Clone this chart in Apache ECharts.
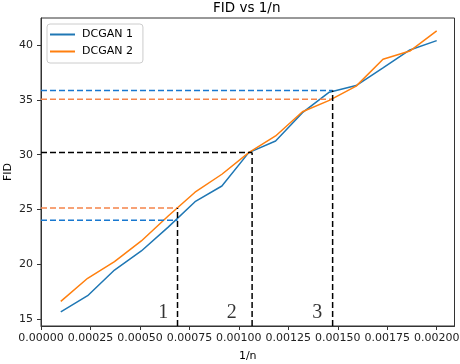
<!DOCTYPE html>
<html>
<head>
<meta charset="utf-8">
<title>FID vs 1/n</title>
<script src="https://cdn.jsdelivr.net/npm/echarts@6/dist/echarts.min.js"></script>
<style>
  html, body { margin: 0; padding: 0; background: #fff; }
  #main { width: 460px; height: 364px; }
</style>
</head>
<body>
<div id="main"></div>
<script>
// 1/n values (15 points)
var invN = [0.0001, 0.00023571, 0.00037143, 0.00050714, 0.00064286, 0.00077857,
            0.00091429, 0.00105, 0.00118571, 0.00132143, 0.00145714, 0.00159286,
            0.00172857, 0.00186429, 0.002];
var dcgan1 = [15.67, 17.15, 19.49, 21.23, 23.4, 25.72, 27.15, 30.19, 31.25, 33.83,
              35.7, 36.3, 37.91, 39.55, 40.4];
var dcgan2 = [16.64, 18.74, 20.25, 22.14, 24.42, 26.58, 28.22, 30.19, 31.71, 33.92,
              34.95, 36.25, 38.7, 39.45, 41.28];

// ticks
var xTicks = [0, 0.00025, 0.0005, 0.00075, 0.001, 0.00125, 0.0015, 0.00175, 0.002];
var yTicks = [15, 20, 25, 30, 35, 40];
var xMin = 0, xMax = 0.00209;
var yMin = 14.39, yMax = 42.46;

// guide lines: x of marks 1..3 and the FID levels read there
var markX = [0.00069, 0.001067, 0.001474];
var markTop = [25.15, 30.2, 35.85];
var blueLevels = [24.02, 35.85];    // at marks 1 and 3
var orangeLevels = [25.15, 35.05];  // at marks 1 and 3
var blackLevel = 30.2;              // at mark 2
var markNames = ['1', '2', '3'];
var markLabelX = [0.000595, 0.000942, 0.001374];
var markLabelY = 15;

var blue = '#1f77b4', orange = '#ff7f0e';
var dashBlue = '#1878d0', dashOrange = '#f5844a';

function pairs(xs, ys) {
  return xs.map(function (x, i) { return [x, ys[i]]; });
}

function dashed(data, color) {
  return {
    type: 'line', data: data, symbol: 'none', silent: true, z: 3,
    lineStyle: { color: color, width: 1.5, type: [6, 3] }
  };
}

var series = [
  { name: 'DCGAN 1', type: 'line', data: pairs(invN, dcgan1), symbol: 'none',
    lineStyle: { color: blue, width: 1.5 }, itemStyle: { color: blue }, z: 2 },
  { name: 'DCGAN 2', type: 'line', data: pairs(invN, dcgan2), symbol: 'none',
    lineStyle: { color: orange, width: 1.5 }, itemStyle: { color: orange }, z: 2 },
  dashed([[xMin, blueLevels[0]], [markX[0], blueLevels[0]]], dashBlue),
  dashed([[xMin, orangeLevels[0]], [markX[0], orangeLevels[0]]], dashOrange),
  dashed([[xMin, blackLevel], [markX[1], blackLevel]], '#000'),
  dashed([[xMin, blueLevels[1]], [markX[2], blueLevels[1]]], dashBlue),
  dashed([[xMin, orangeLevels[1]], [markX[2], orangeLevels[1]]], dashOrange)
];
markX.forEach(function (x, i) {
  series.push(dashed([[x, yMin], [x, markTop[i]]], '#000'));
});
series.push({
  type: 'scatter', silent: true, symbolSize: 1, z: 4,
  data: markLabelX.map(function (x, i) { return [x, markLabelY, markNames[i]]; }),
  itemStyle: { color: 'rgba(0,0,0,0)' },
  label: {
    show: true, position: [0, 0], align: 'left', verticalAlign: 'bottom',
    offset: [0, 4],
    formatter: function (p) { return p.value[2]; },
    fontFamily: 'Liberation Serif', fontSize: 20, color: '#000'
  }
});

var font = 'DejaVu Sans';
var myChart = echarts.init(document.getElementById('main'));
var option = {
  animation: false,
  textStyle: { fontFamily: font },
  title: {
    text: 'FID vs 1/n', left: 213, top: 1, padding: 0,
    textStyle: { fontFamily: font, fontSize: 13.5, fontWeight: 'normal', color: '#000' }
  },
  legend: {
    data: ['DCGAN 1', 'DCGAN 2'], orient: 'vertical', left: 47, top: 24,
    padding: [5, 10, 6, 3], itemGap: 6, itemWidth: 25, itemHeight: 2, icon: 'rect',
    backgroundColor: 'rgba(255,255,255,0.8)', borderColor: '#ccc', borderWidth: 1,
    borderRadius: 3,
    textStyle: { fontFamily: font, fontSize: 11, color: '#000', padding: [0, 0, 0, 2] }
  },
  grid: {
    left: 41, right: 5.5, top: 18, bottom: 38, show: true,
    outerBoundsMode: 'none', containLabel: false,
    borderColor: '#333', borderWidth: 1, backgroundColor: 'transparent'
  },
  xAxis: {
    type: 'value', min: xMin, max: xMax,
    name: '1/n', nameLocation: 'middle', nameGap: 25, nameMoveOverlap: false,
    nameTextStyle: { fontFamily: font, fontSize: 11, color: '#000' },
    splitLine: { show: false },
    axisLine: { lineStyle: { color: '#333', width: 1 } },
    axisTick: { customValues: xTicks, length: 4, lineStyle: { color: '#333' } },
    axisLabel: {
      customValues: xTicks, margin: 7, fontFamily: font, fontSize: 11, color: '#222',
      showMinLabel: true, showMaxLabel: true, hideOverlap: false,
      formatter: function (v) { return v.toFixed(5); }
    }
  },
  yAxis: {
    type: 'value', min: yMin, max: yMax,
    name: 'FID', nameLocation: 'middle', nameGap: 27, nameRotate: 90,
    nameMoveOverlap: false,
    nameTextStyle: { fontFamily: font, fontSize: 11, color: '#000' },
    splitLine: { show: false },
    axisLine: { show: true, lineStyle: { color: '#333', width: 1 } },
    axisTick: { show: true, customValues: yTicks, length: 4, lineStyle: { color: '#333' } },
    axisLabel: {
      customValues: yTicks, margin: 8, fontFamily: font, fontSize: 11, color: '#222'
    }
  },
  series: series
};
myChart.setOption(option);
</script>
</body>
</html>
